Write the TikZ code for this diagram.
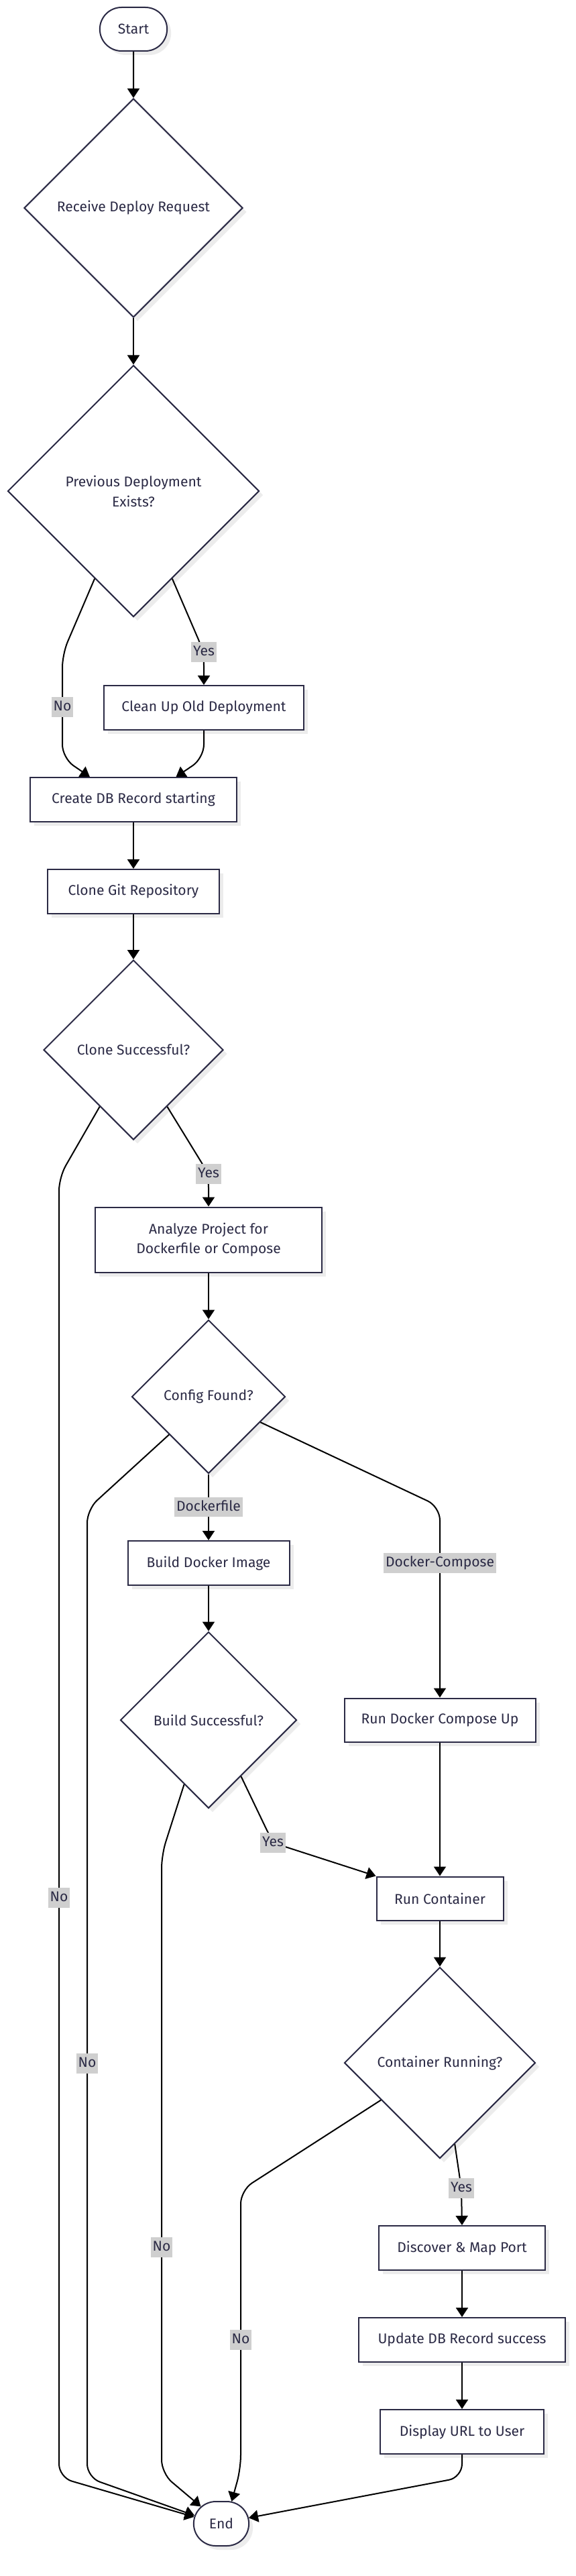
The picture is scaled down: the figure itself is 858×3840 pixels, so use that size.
\documentclass[tikz,border=0pt]{standalone}
\usepackage{fontspec}
\setmainfont{Fira Sans}
\usepackage{tikz}
\usetikzlibrary{shapes.geometric,shapes.misc,arrows.meta,shadows,calc}
\definecolor{ink}{RGB}{43,42,69}
\definecolor{lblgray}{RGB}{207,207,207}
\definecolor{shade}{RGB}{236,236,236}

\begin{document}
\begin{tikzpicture}[x=0.2mm, y=-0.2mm,
    every node/.style={text=ink, font=\fontsize{12}{17}\selectfont},
    box/.style={draw=ink, line width=0.4mm, fill=white, minimum height=13.2mm, align=center,
        drop shadow={shadow xshift=1.2mm, shadow yshift=-1.2mm, fill=shade, opacity=1}},
    decision/.style={diamond, aspect=1, draw=ink, line width=0.4mm, fill=white, inner sep=0pt, align=center,
        drop shadow={shadow xshift=1.2mm, shadow yshift=-1.2mm, fill=shade, opacity=1}},
    term/.style={rounded rectangle, draw=ink, line width=0.4mm, fill=white, minimum height=13mm,
        drop shadow={shadow xshift=1.2mm, shadow yshift=-1.2mm, fill=shade, opacity=1}},
    lbl/.style={sharp corners, fill=lblgray, inner xsep=0.6mm, inner ysep=1mm, text height=8.5pt, text depth=2.5pt},
    flow/.style={draw=black, line width=0.4mm, -{Triangle[length=2.8mm,width=3.6mm]}, rounded corners=4mm}]

    \fill[white] (0,0) rectangle (858,3840);

    % Main column
    \node[term, minimum width=22.4mm] (start) at (199,43.5) {Start};
    \node[decision, minimum width=65.2mm, minimum height=65.2mm] (recv) at (199,310) {Receive Deploy Request};
    \node[decision, minimum width=75mm, minimum height=75mm] (prev) at (199,732) {Previous Deployment\\Exists?};
    \node[box, minimum width=59.6mm] (clean) at (304,1055) {Clean Up Old Deployment};
    \node[box, minimum width=61.6mm] (createdb) at (199,1192) {Create DB Record starting};
    \node[box, minimum width=51mm] (clone) at (199,1329) {Clone Git Repository};
    \node[decision, minimum width=53.6mm, minimum height=53.6mm] (cloneok) at (199,1565) {Clone Successful?};
    \node[box, minimum width=67.4mm, minimum height=19.4mm] (analyze) at (311,1848) {Analyze Project for\\Dockerfile or Compose};
    \node[decision, minimum width=45.8mm, minimum height=45.8mm] (config) at (311,2082) {Config Found?};
    \node[box, minimum width=48.2mm] (buildimg) at (311,2330) {Build Docker Image};
    \node[decision, minimum width=52.6mm, minimum height=52.6mm] (buildok) at (311,2564) {Build Successful?};

    % Compose branch and success path
    \node[box, minimum width=57mm, minimum height=13mm] (compose) at (656,2564) {Run Docker Compose Up};
    \node[box, minimum width=37.8mm, minimum height=13mm] (runc) at (656,2830) {Run Container};
    \node[decision, minimum width=57mm, minimum height=57mm] (running) at (656,3075) {Container Running?};
    \node[box, minimum width=49.6mm] (discover) at (689,3351) {Discover \& Map Port};
    \node[box, minimum width=61.6mm] (updatedb) at (689,3488) {Update DB Record success};
    \node[box, minimum width=48.8mm] (display) at (689,3625) {Display URL to User};
    \node[term, minimum width=18.8mm, minimum height=13.2mm] (end) at (330,3762) {End};

    % Exit points on the diamonds
    \coordinate (prevNo) at ($(prev.south)!0.307!(prev.west)$);
    \coordinate (prevYes) at ($(prev.south)!0.307!(prev.east)$);
    \coordinate (dbInL) at ($(createdb.north west)!0.29!(createdb.north east)$);
    \coordinate (dbInR) at ($(createdb.north west)!0.705!(createdb.north east)$);
    \coordinate (cloneNo) at ($(cloneok.south)!0.373!(cloneok.west)$);
    \coordinate (cloneYes) at ($(cloneok.south)!0.373!(cloneok.east)$);
    \coordinate (cfgNo) at ($(config.south)!0.51!(config.west)$);
    \coordinate (cfgCompose) at ($(config.south)!0.67!(config.east)$);
    \coordinate (buildNo) at ($(buildok.south)!0.275!(buildok.west)$);
    \coordinate (buildYes) at ($(buildok.south)!0.366!(buildok.east)$);
    \coordinate (runNo) at ($(running.south)!0.613!(running.west)$);
    \coordinate (runYes) at ($(running.south)!0.155!(running.east)$);

    % Connectors
    \draw[flow] (start) -- (recv);
    \draw[flow] (recv) -- (prev);
    \draw[flow] (prevNo) -- (93,975) -- (93,1054) node[lbl] {No} -- (93,1130) -- (dbInL);
    \draw[flow] (prevYes) -- (304,972) node[lbl] {Yes} -- (clean.north);
    \draw[flow] (clean.south) -- (304,1130) -- (dbInR);
    \draw[flow] (createdb) -- (clone);
    \draw[flow] (clone) -- (cloneok);
    \draw[flow] (cloneNo) -- (88,1755) -- (88,2829) node[lbl] {No} -- (88,3693) -- (end.166);
    \draw[flow] (cloneYes) -- (311,1750) node[lbl] {Yes} -- (analyze.north);
    \draw[flow] (analyze) -- (config);
    \draw[flow] (cfgNo) -- (130,2250) -- (130,3076) node[lbl] {No} -- (130,3693) -- (end.163);
    \draw[flow] (config) -- node[lbl] {Dockerfile} (buildimg);
    \draw[flow] (cfgCompose) -- (656,2246) -- (656,2330) node[lbl] {Docker-Compose} -- (compose.north);
    \draw[flow] (buildimg) -- (buildok);
    \draw[flow] (buildNo) -- (241,2765) -- (241,3350) node[lbl] {No} -- (241,3687) -- (end.140);
    \draw[flow] (buildYes) -- (407,2747) node[lbl] {Yes} -- (runc.north west);
    \draw[flow] (compose) -- (runc);
    \draw[flow] (runc) -- (running);
    \draw[flow] (runNo) -- (359,3265) -- (359,3488) node[lbl] {No} -- (359,3680) -- (end.65);
    \draw[flow] (runYes) -- (688,3262) node[lbl] {Yes} -- (discover.north);
    \draw[flow] (discover) -- (updatedb);
    \draw[flow] (updatedb) -- (display);
    \draw[flow] (display.south) -- (689,3693) -- (end.12);
\end{tikzpicture}
\end{document}
